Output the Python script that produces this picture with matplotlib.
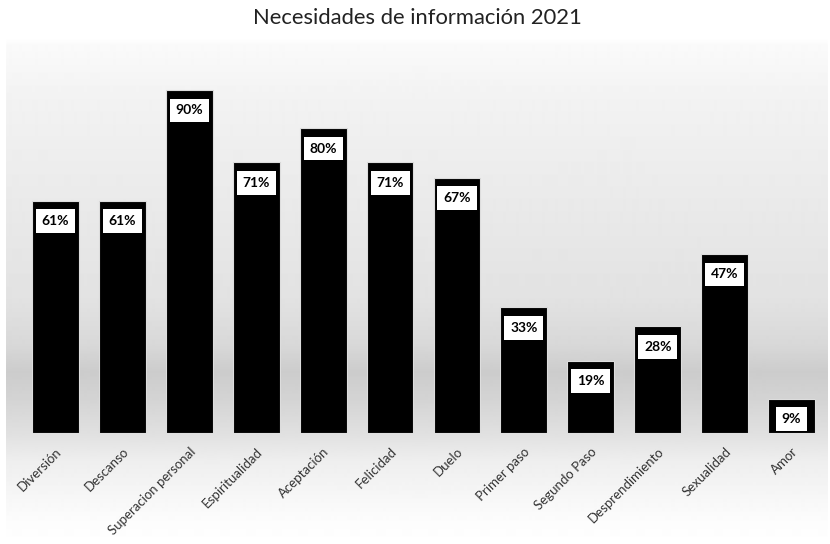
import numpy as np
import matplotlib
matplotlib.use("Agg")
import matplotlib.pyplot as plt

categories = ["Diversión", "Descanso", "Superacion personal", "Espiritualidad",
              "Aceptación", "Felicidad", "Duelo", "Primer paso", "Segundo Paso",
              "Desprendimiento", "Sexualidad", "Amor"]
values = [61, 61, 90, 71, 80, 71, 67, 33, 19, 28, 47, 9]
title = "Necesidades de información 2021"

W, H = 830, 544
fig = plt.figure(figsize=(W / 100, H / 100), dpi=100)
fig.patch.set_facecolor("white")

# background gradient (decorative)
bg = fig.add_axes([0, 0, 1, 1], zorder=0)
ys = np.arange(H)
knots_y = [0, 38, 45, 100, 200, 300, 345, 372, 400, 433, 460, 520, 544]
knots_v = [255, 255, 250, 242, 234, 226, 216, 204, 212, 224, 238, 252, 255]
col = np.interp(ys, knots_y, knots_v) / 255.0
img = np.tile(col[:, None], (1, W))
xs = np.arange(W)
mask = (xs < 6) | (xs > 826)
img[:, mask] = 1.0
bg.imshow(img, cmap="gray", vmin=0, vmax=1, aspect="auto",
          extent=[0, W, H, 0], interpolation="bilinear")
bg.set_xlim(0, W)
bg.set_ylim(H, 0)
bg.axis("off")

# main axes: x from 22 to 825 px, y: 0 at 433px, 90 at 90px
ax_left, ax_right = 22, 825
y0_px = 433
px_per = (433 - 90) / 90.0
ymax = 96
ax_top = y0_px - ymax * px_per
ax = fig.add_axes([ax_left / W, (H - y0_px) / H, (ax_right - ax_left) / W,
                   (y0_px - ax_top) / H], zorder=1)
ax.patch.set_alpha(0)

x = np.arange(len(categories))
ax.bar(x, values, width=0.70, color="black", edgecolor="#dddddd",
       linewidth=0.8, zorder=2)
ax.set_xlim(-0.5, len(categories) - 0.5)
ax.set_ylim(0, ymax)

lab_font = ["Lato", "DejaVu Sans"]
for xi, v in zip(x, values):
    ax.annotate(f"{v}%", xy=(xi, v), xytext=(0, -20.5), textcoords="offset pixels",
                ha="center", va="center", fontsize=10, fontweight="bold",
                family=lab_font, color="black", zorder=3,
                bbox=dict(boxstyle="square,pad=0.42", facecolor="white",
                          edgecolor="none"))

ax.set_xticks(x)
ax.set_xticklabels(categories, rotation=45, ha="right", va="top",
                   rotation_mode="anchor", fontsize=9.5, family=lab_font,
                   color="#333333")
ax.tick_params(axis="x", length=0, pad=9)
ax.set_yticks([])
for s in ax.spines.values():
    s.set_visible(False)

fig.text(417 / W, 1 - 18 / H, title, ha="center", va="center", fontsize=15.8,
         family=lab_font, color="#222222")

fig.savefig("out.png", dpi=100)
